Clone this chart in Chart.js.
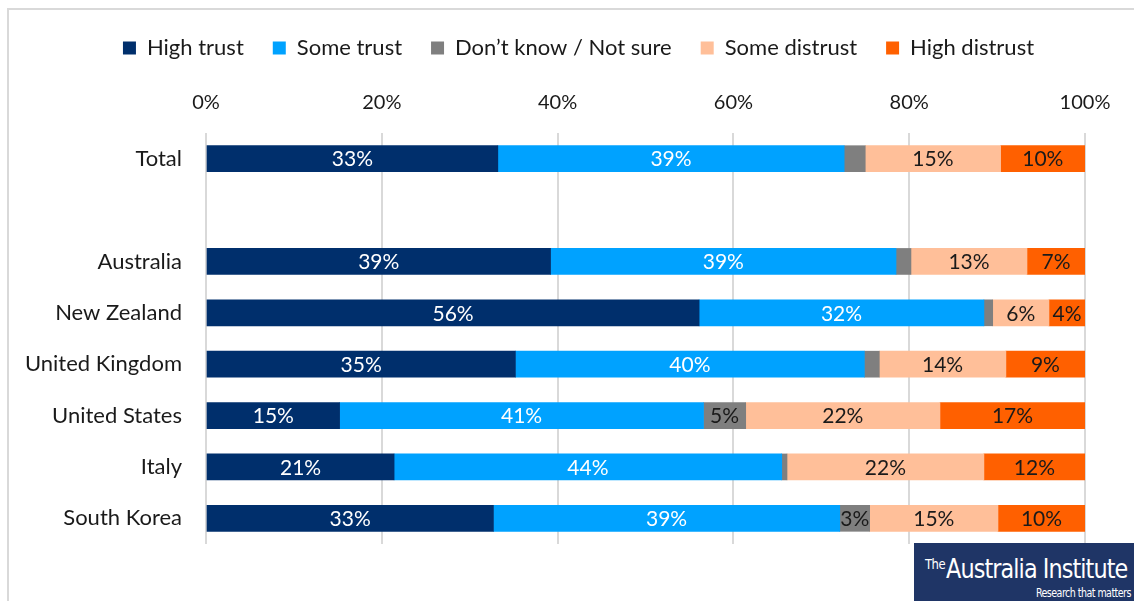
<!DOCTYPE html>
<html>
<head>
<meta charset="utf-8">
<script src="https://cdn.jsdelivr.net/npm/chart.js@4"></script>
<style>
  html, body { margin: 0; padding: 0; background: #fff; }
  #wrap { position: relative; width: 1134px; height: 601px; overflow: hidden; }
  #frame { position: absolute; left: 7px; top: 8px; width: 1140px; height: 610px;
           border-left: 2px solid #d9d9d9; border-top: 2px solid #d9d9d9; }
  canvas { position: absolute; left: 0; top: 0; }
  .logo { position: absolute; left: 914px; top: 543px; width: 220px; height: 58px;
          background: #1f3566; color: #fff; font-family: "Liberation Sans Narrow", "DejaVu Sans Condensed", sans-serif; overflow: hidden; }
  .logo .name { position: absolute; left: 11px; top: 10px; font-size: 27px; letter-spacing: -1px; white-space: nowrap;
                transform: scaleX(0.92); transform-origin: left top; }
  .logo .name sup { font-size: 14px; letter-spacing: -0.5px; vertical-align: 9px; margin-right: 1px; }
  .logo .tag { position: absolute; right: 3px; bottom: 1px; font-size: 12px; letter-spacing: -0.6px; white-space: nowrap;
               transform: scaleX(0.88); transform-origin: right bottom; }
</style>
</head>
<body>
<div id="wrap">
  <div id="frame"></div>
  <canvas id="chart-trust" width="1134" height="601"></canvas>
  <div class="logo"><span class="name"><sup>The</sup>Australia Institute</span><span class="tag">Research that matters</span></div>
</div>
<script>
/* ══════════════════════════════════════
   Trust by country — stacked 100% bars
══════════════════════════════════════ */

const categories   = ['Total', '', 'Australia', 'New Zealand', 'United Kingdom', 'United States', 'Italy', 'South Korea'];
const seriesNames  = ['High trust', 'Some trust', 'Don\u2019t know / Not sure', 'Some distrust', 'High distrust'];

const highTrust    = [33.2, null, 39.2, 56.1, 35.2, 15.2, 21.4, 32.7];
const someTrust    = [39.4, null, 39.3, 32.4, 39.7, 41.4, 44.1, 39.4];
const dontKnow     = [2.4,  null, 1.7,  1.0,  1.7,  4.8,  0.6,  3.4];
const someDistrust = [15.4, null, 13.2, 6.4,  14.4, 22.1, 22.4, 14.6];
const highDistrust = [9.6,  null, 6.6,  4.1,  9.0,  16.5, 11.5, 9.9];

const xTicks = [0, 20, 40, 60, 80, 100];

const COLORS      = ['#002f6c', '#00a2ff', '#7f7f7f', '#ffbf99', '#ff6000'];
const LABEL_COLOR = ['#ffffff', '#ffffff', '#1a1a1a', '#1a1a1a', '#1a1a1a'];
const MIN_LABEL   = 3; // thin slivers stay unlabelled

const FONT = 'Lato, "Open Sans", sans-serif';

// ── SEGMENT LABELS ────────────────────
const segmentLabels = {
  id: 'segmentLabels',
  afterDatasetsDraw(chart) {
    const { ctx } = chart;
    ctx.save();
    ctx.font = `21px ${FONT}`;
    ctx.textAlign = 'center';
    ctx.textBaseline = 'middle';
    chart.data.datasets.forEach((ds, di) => {
      const meta = chart.getDatasetMeta(di);
      meta.data.forEach((bar, i) => {
        const v = ds.data[i];
        if (v == null || v < MIN_LABEL) return;
        ctx.fillStyle = LABEL_COLOR[di];
        ctx.fillText(`${Math.round(v)}%`, (bar.x + bar.base) / 2, bar.y + 1);
      });
    });
    ctx.restore();
  },
};

// ── LEGEND OFFSET ─────────────────────
// nudge the legend row right so it centres over the whole frame
const legendShift = {
  id: 'legendShift',
  afterLayout(chart) {
    if (!chart.legend) return;
    chart.legend.left  += 36;
    chart.legend.right += 36;
  },
};

const seriesData = [highTrust, someTrust, dontKnow, someDistrust, highDistrust];

new Chart(document.getElementById('chart-trust'), {
  type: 'bar',
  data: {
    labels: categories,
    datasets: seriesNames.map((name, i) => ({
      label: name,
      data: seriesData[i],
      backgroundColor: COLORS[i],
      borderWidth: 0,
      barThickness: 26,
    })),
  },
  plugins: [segmentLabels, legendShift],
  options: {
    indexAxis: 'y',
    responsive: false,
    animation: false,
    layout: { padding: { top: 8, right: 49, bottom: 57, left: 0 } },
    plugins: {
      legend: {
        position: 'top',
        labels: {
          boxWidth: 13, boxHeight: 13, padding: 29,
          color: '#1a1a1a',
          font: { family: FONT, size: 22 },
        },
      },
      tooltip: { enabled: false },
    },
    scales: {
      x: {
        position: 'top',
        stacked: true,
        min: 0, max: 100,
        afterBuildTicks: s => { s.ticks = xTicks.map(v => ({ value: v })); },
        ticks: { color: '#1a1a1a', font: { family: FONT, size: 20 }, padding: 18, callback: v => `${v}%` },
        grid: { color: '#d9d9d9', lineWidth: 2, drawTicks: false },
        border: { display: false },
        afterFit: s => { s.height = 64; },
      },
      y: {
        stacked: true,
        ticks: { color: '#1a1a1a', font: { family: FONT, size: 22 }, padding: 16 },
        grid: { display: false },
        border: { display: false },
        afterFit: s => { s.width = 206; },
      },
    },
  },
});
</script>
</body>
</html>
